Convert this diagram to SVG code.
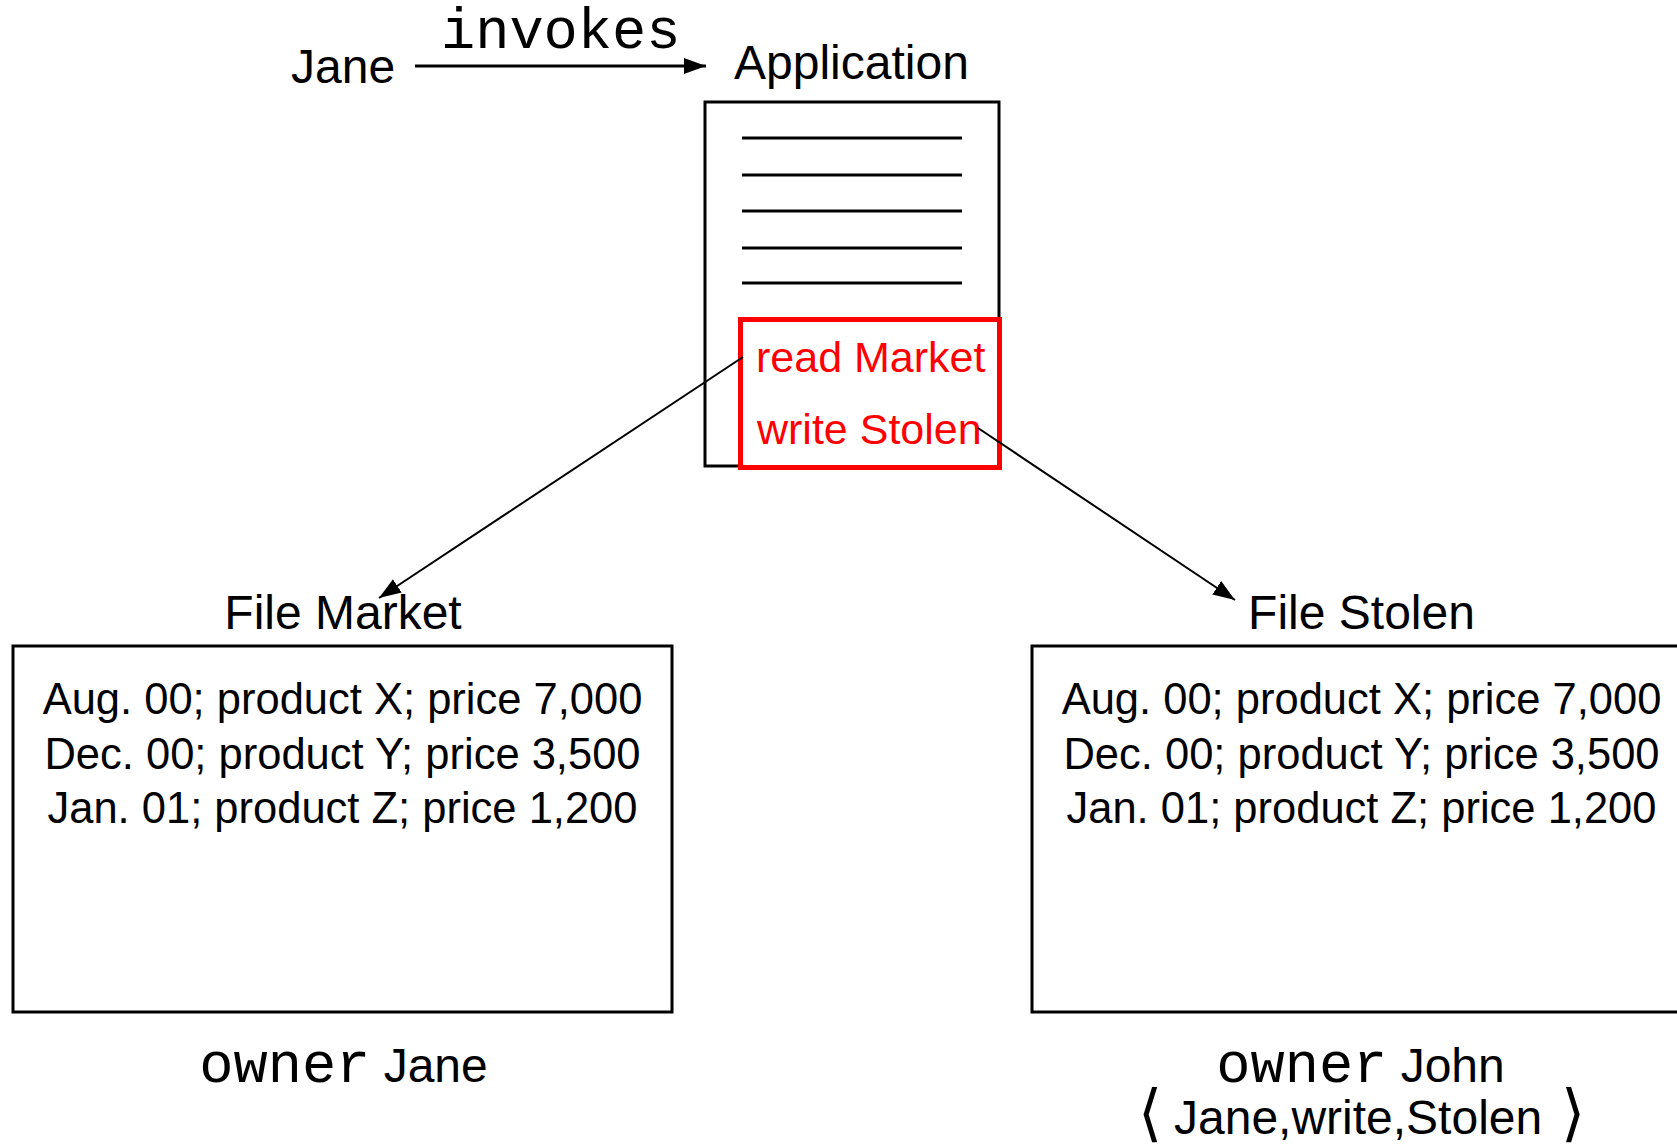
<svg xmlns="http://www.w3.org/2000/svg" width="1677" height="1147" viewBox="0 0 1677 1147">
<defs>
<style>
.sans{font-family:"Liberation Sans",Arial,sans-serif;fill:#000}
.mono{font-family:"Liberation Mono","Courier New",monospace;fill:#000}
.lbl{font-size:48px}
.row{font-size:43.5px}
.red{font-family:"Liberation Sans",Arial,sans-serif;font-size:43px;fill:#ff0000}
.box{fill:none;stroke:#000;stroke-width:3}
.rule{stroke:#000;stroke-width:3}
.conn{stroke:#000;stroke-width:2;fill:none}
.brk{font-family:"DejaVu Sans",sans-serif;font-weight:200;font-size:62px;fill:#000}
</style>
<marker id="ah" markerUnits="userSpaceOnUse" markerWidth="24" markerHeight="16" refX="22" refY="8" orient="auto">
<path d="M0,0 L22,8 L0,16 z" fill="#000"/>
</marker>
</defs>
<rect width="1677" height="1147" fill="#fff"/>

<g id="jane">
<text class="sans lbl" x="291" y="83">Jane</text>
</g>

<g id="application">
<text class="sans lbl" x="734" y="79">Application</text>
<rect class="box" x="705" y="102" width="294" height="364"/>
<line class="rule" x1="742" y1="138" x2="962" y2="138"/>
<line class="rule" x1="742" y1="175" x2="962" y2="175"/>
<line class="rule" x1="742" y1="211" x2="962" y2="211"/>
<line class="rule" x1="742" y1="248" x2="962" y2="248"/>
<line class="rule" x1="742" y1="283" x2="962" y2="283"/>
<rect x="740.5" y="319.5" width="259" height="148" fill="#fff" stroke="#ff0000" stroke-width="5"/>
<text class="red" x="756" y="372">read Market</text>
<text class="red" x="757" y="444">write Stolen</text>
</g>

<g id="file-market">
<text class="sans lbl" x="343" y="629" text-anchor="middle">File Market</text>
<rect class="box" x="13" y="646" width="659" height="366"/>
<text class="sans row" x="342.5" y="714" text-anchor="middle">Aug. 00; product X; price 7,000</text>
<text class="sans row" x="342.5" y="769" text-anchor="middle">Dec. 00; product Y; price 3,500</text>
<text class="sans row" x="342.5" y="823" text-anchor="middle">Jan. 01; product Z; price 1,200</text>
<text x="343.5" y="1082" text-anchor="middle"><tspan class="mono" font-size="57">owner</tspan><tspan class="sans" font-size="48"> Jane</tspan></text>
</g>

<g id="file-stolen">
<text class="sans lbl" x="1361.5" y="629" text-anchor="middle">File Stolen</text>
<rect class="box" x="1032" y="646" width="659" height="366"/>
<text class="sans row" x="1361.5" y="714" text-anchor="middle">Aug. 00; product X; price 7,000</text>
<text class="sans row" x="1361.5" y="769" text-anchor="middle">Dec. 00; product Y; price 3,500</text>
<text class="sans row" x="1361.5" y="823" text-anchor="middle">Jan. 01; product Z; price 1,200</text>
<text x="1360.5" y="1082" text-anchor="middle"><tspan class="mono" font-size="57">owner</tspan><tspan class="sans" font-size="48"> John</tspan></text>
<text class="brk" x="1149.5" y="1134" text-anchor="middle">⟨</text>
<text class="sans lbl" x="1174" y="1134">Jane,write,Stolen</text>
<text class="brk" x="1573" y="1134" text-anchor="middle">⟩</text>
</g>

<g id="connectors">
<line x1="415" y1="66" x2="706" y2="66" stroke="#000" stroke-width="3" marker-end="url(#ah)"/>
<text class="mono" font-size="57" x="441" y="48">invokes</text>
<line class="conn" x1="743" y1="357" x2="379" y2="598" marker-end="url(#ah)"/>
<line class="conn" x1="978" y1="428" x2="1235" y2="600" marker-end="url(#ah)"/>
</g>
</svg>
